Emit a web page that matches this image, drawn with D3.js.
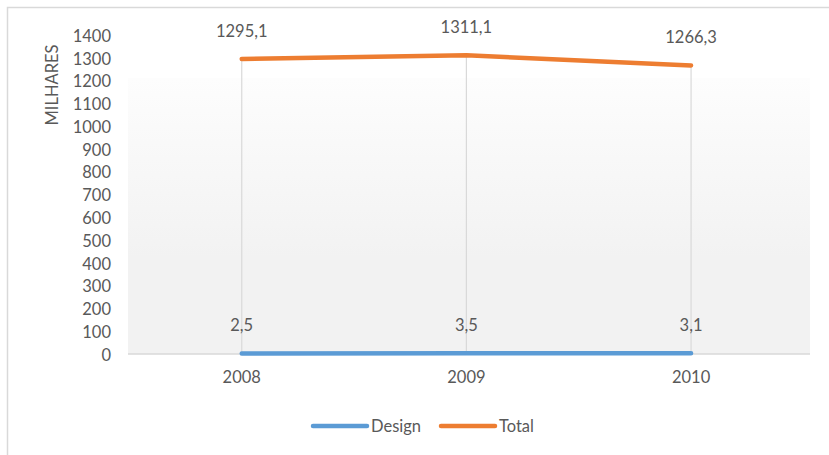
<!DOCTYPE html>
<html><head><meta charset="utf-8">
<script src="https://cdn.jsdelivr.net/npm/d3@7"></script>
<style>body{margin:0;background:#fff}svg{display:block}text{font-family:Lato,"Open Sans",sans-serif;fill:#595959}</style>
</head><body><svg id="c" width="829" height="455"></svg>
<script>
const years = ["2008","2009","2010"];
const design = [2.5, 3.5, 3.1];
const total = [1295.1, 1311.1, 1266.3];
const designLabels = ["2,5","3,5","3,1"];
const totalLabels = ["1295,1","1311,1","1266,3"];
const yTicks = d3.range(0, 1401, 100);
const seriesNames = ["Design","Total"];
const colors = ["#5b9bd5","#ed7d31"];

const svg = d3.select("#c");
const x = d3.scaleBand().domain(years).range([129.4, 803.4]);
const y = d3.scaleLinear().domain([0,1400]).range([354, 35]);
const cx = d => x(d) + x.bandwidth()/2;

// outer border
svg.append("rect").attr("x",7.5).attr("y",7.5).attr("width",840).attr("height",470)
  .attr("fill","#fff").attr("stroke","#d9d9d9").attr("stroke-width",1.5);

const defs = svg.append("defs");
const g = defs.append("linearGradient").attr("id","bg").attr("x1",0).attr("y1",0).attr("x2",0).attr("y2",1);
g.append("stop").attr("offset","0%").attr("stop-color","#fdfdfd");
g.append("stop").attr("offset","65%").attr("stop-color","#f2f2f2");
g.append("stop").attr("offset","100%").attr("stop-color","#f2f2f2");
svg.append("rect").attr("x",128).attr("y",78).attr("width",682).attr("height",y(0)-78).attr("fill","url(#bg)");

// vertical gridlines
svg.selectAll(".vg").data(years).enter().append("line")
  .attr("x1",cx).attr("x2",cx).attr("y1",y(0)).attr("y2",d=>y(total[years.indexOf(d)]))
  .attr("stroke","#d9d9d9").attr("stroke-width",1.2);
// baseline
svg.append("line").attr("x1",128).attr("x2",810).attr("y1",y(0)).attr("y2",y(0))
  .attr("stroke","#d9d9d9").attr("stroke-width",1.5);

// y axis
const ya = svg.append("g").attr("transform","translate(111,1)")
  .call(d3.axisLeft(y).tickValues(yTicks).tickFormat(d3.format("d")).tickSize(0).tickPadding(0));
ya.select(".domain").remove();
ya.selectAll("text").attr("font-size",16.5).attr("fill","#595959").style("font-family","Lato");

// x axis
const xa = svg.append("g").attr("transform",`translate(0,${y(0)+17})`)
  .call(d3.axisBottom(x).tickSize(0).tickPadding(0));
xa.select(".domain").remove();
xa.selectAll("text").attr("font-size",16.5).attr("fill","#595959").style("font-family","Lato");

svg.append("text").attr("transform","translate(58,85) rotate(-90)").attr("text-anchor","middle")
  .attr("font-size",16.5).text("MILHARES");

const line = d3.line().x((d,i)=>cx(years[i])).y(d=>y(d));
[design,total].forEach((s,k)=>{
  svg.append("path").datum(s).attr("d",line).attr("fill","none")
    .attr("stroke",colors[k]).attr("stroke-width",4.5).attr("stroke-linecap","round").attr("stroke-linejoin","round");
});
[[design,designLabels],[total,totalLabels]].forEach(([s,l])=>{
  svg.selectAll(null).data(s).enter().append("text")
    .attr("x",(d,i)=>cx(years[i])).attr("y",d=>y(d)-22)
    .attr("text-anchor","middle").attr("font-size",16.5).text((d,i)=>l[i]);
});

// legend
const lx = [313, 441];
seriesNames.forEach((n,k)=>{
  svg.append("line").attr("x1",lx[k]).attr("x2",lx[k]+54).attr("y1",426).attr("y2",426)
    .attr("stroke",colors[k]).attr("stroke-width",4.5).attr("stroke-linecap","round");
  svg.append("text").attr("x",lx[k]+58).attr("y",431.5).attr("font-size",16.5).text(n);
});
</script></body></html>
